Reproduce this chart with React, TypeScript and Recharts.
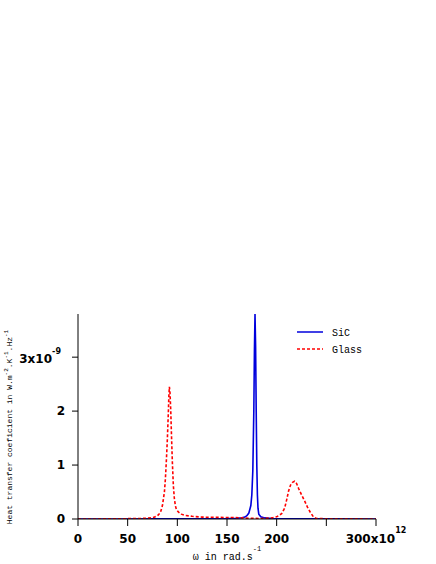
import React from 'react';
import { LineChart, Line, XAxis, YAxis, Legend } from 'recharts';

// omega in 1e12 rad/s, values in 1e-9 W.m-2.K-1.Hz-1
const sicOmega = [0, 40, 80, 120, 150, 160, 165, 168, 170, 172, 174, 175, 176, 177, 177.6, 178.2, 178.8, 179.4, 180, 180.6, 181.2, 182, 184, 188, 195, 220, 260, 300];
const sicValues = [0, 0.001, 0.002, 0.004, 0.008, 0.014, 0.022, 0.035, 0.06, 0.11, 0.25, 0.45, 0.9, 2.0, 3.1, 3.8, 3.2, 2.0, 1.0, 0.45, 0.2, 0.09, 0.04, 0.02, 0.01, 0.004, 0.002, 0.001];

const glassOmega = [0, 30, 60, 70, 76, 80, 83, 85, 87, 88, 89, 90, 91, 91.5, 92, 92.6, 93.4, 94.2, 95, 96, 97, 98, 99, 101, 104, 108, 115, 125, 140, 155, 165, 175, 185, 195, 200, 205, 208, 210, 212, 214, 216, 218, 220, 222, 225, 228, 231, 234, 237, 240, 250, 270, 300];
const glassValues = [0, 0.002, 0.008, 0.015, 0.03, 0.06, 0.12, 0.25, 0.5, 0.75, 1.1, 1.5, 2.0, 2.3, 2.45, 2.35, 2.0, 1.5, 1.05, 0.62, 0.38, 0.25, 0.18, 0.13, 0.09, 0.065, 0.05, 0.035, 0.03, 0.028, 0.02, 0.012, 0.01, 0.02, 0.04, 0.1, 0.2, 0.35, 0.52, 0.63, 0.68, 0.7, 0.66, 0.57, 0.45, 0.34, 0.22, 0.12, 0.04, 0.01, 0.004, 0.002, 0.001];

const xTicks = [0, 50, 100, 150, 200, 250, 300];
const xTickLabels = ['0', '50', '100', '150', '200', '', '300x10'];
const yTicks = [0, 1, 2, 3];
const yTickLabels = ['0', '1', '2', '3x10'];

const sicData = sicOmega.map((w, i) => ({ w, v: sicValues[i] }));
const glassData = glassOmega.map((w, i) => ({ w, v: glassValues[i] }));

const tickFont = { fontFamily: 'DejaVu Sans', fontWeight: 'bold' as const, fontSize: 12, fill: '#000' };
const monoFont = 'Liberation Mono';

function XTick({ x, y, index }: any) {
  const label = xTickLabels[index];
  const last = index === xTicks.length - 1;
  return (
    <text x={x} y={y + 15} textAnchor="middle" {...tickFont}>
      {label}
      {last && (
        <tspan dy={-10} fontSize={8}>12</tspan>
      )}
    </text>
  );
}

function YTick({ x, y, index }: any) {
  const label = yTickLabels[index];
  const last = index === yTicks.length - 1;
  if (last) {
    return (
      <g>
        <text x={x - 18} y={y + 6} textAnchor="end" {...tickFont}>{label}</text>
        <text x={x - 9} y={y - 3} textAnchor="end" {...tickFont} fontSize={8}>-9</text>
      </g>
    );
  }
  return (
    <text x={x - 5} y={y + 4} textAnchor="end" {...tickFont}>{label}</text>
  );
}

function renderLegend() {
  const items = [
    { name: 'SiC', color: '#0000dd', dash: undefined },
    { name: 'Glass', color: '#ff0000', dash: '3 2' },
  ];
  return (
    <svg width={80} height={34}>
      {items.map((it, i) => (
        <g key={it.name}>
          <line x1={1} x2={27} y1={7 + i * 17} y2={7 + i * 17} stroke={it.color} strokeWidth={1.5} strokeDasharray={it.dash} />
          <text x={36} y={11 + i * 17} fontFamily={monoFont} fontSize={10} fill="#000">{it.name}</text>
        </g>
      ))}
    </svg>
  );
}

export default function App() {
  return (
    <div style={{ position: 'absolute', left: 0, top: 0, width: 436, height: 564, background: '#fff' }}>
      <LineChart width={436} height={564} margin={{ top: 314, right: 60, bottom: 0, left: 0 }}>
        <XAxis
          type="number"
          dataKey="w"
          domain={[0, 300]}
          ticks={xTicks}
          tick={<XTick />}
          tickSize={7}
          height={45}
          stroke="#000"
          tickLine={{ stroke: '#000' }}
          allowDataOverflow
        />
        <YAxis
          type="number"
          dataKey="v"
          domain={[0, 3.8]}
          ticks={yTicks}
          tick={<YTick />}
          tickSize={6}
          width={78}
          stroke="#000"
          allowDataOverflow
        />
        <Legend
          layout="horizontal"
          verticalAlign="middle"
          align="center"
          content={renderLegend}
          wrapperStyle={{ position: 'absolute', left: 296, top: 325, width: 80 }}
        />
        <Line
          data={sicData}
          dataKey="v"
          type="linear"
          stroke="#0000dd"
          strokeWidth={1.6}
          dot={false}
          isAnimationActive={false}
        />
        <Line
          data={glassData}
          dataKey="v"
          type="linear"
          stroke="#ff0000"
          strokeWidth={1.6}
          strokeDasharray="3 2"
          dot={false}
          isAnimationActive={false}
        />
        <text x={227} y={560} textAnchor="middle" fontFamily={monoFont} fontSize={10} fill="#000">
          ω in rad.s
          <tspan dy={-9} fontSize={7}>-1</tspan>
        </text>
        <text
          transform="translate(12, 427) rotate(-90)"
          textAnchor="middle"
          fontFamily={monoFont}
          fontSize={8}
          fill="#000"
        >
          Heat transfer coeficient in W.m
          <tspan dy={-4} fontSize={6}>-2</tspan>
          <tspan dy={4}>.K</tspan>
          <tspan dy={-4} fontSize={6}>-1</tspan>
          <tspan dy={4}>.Hz</tspan>
          <tspan dy={-4} fontSize={6}>-1</tspan>
        </text>
      </LineChart>
    </div>
  );
}
